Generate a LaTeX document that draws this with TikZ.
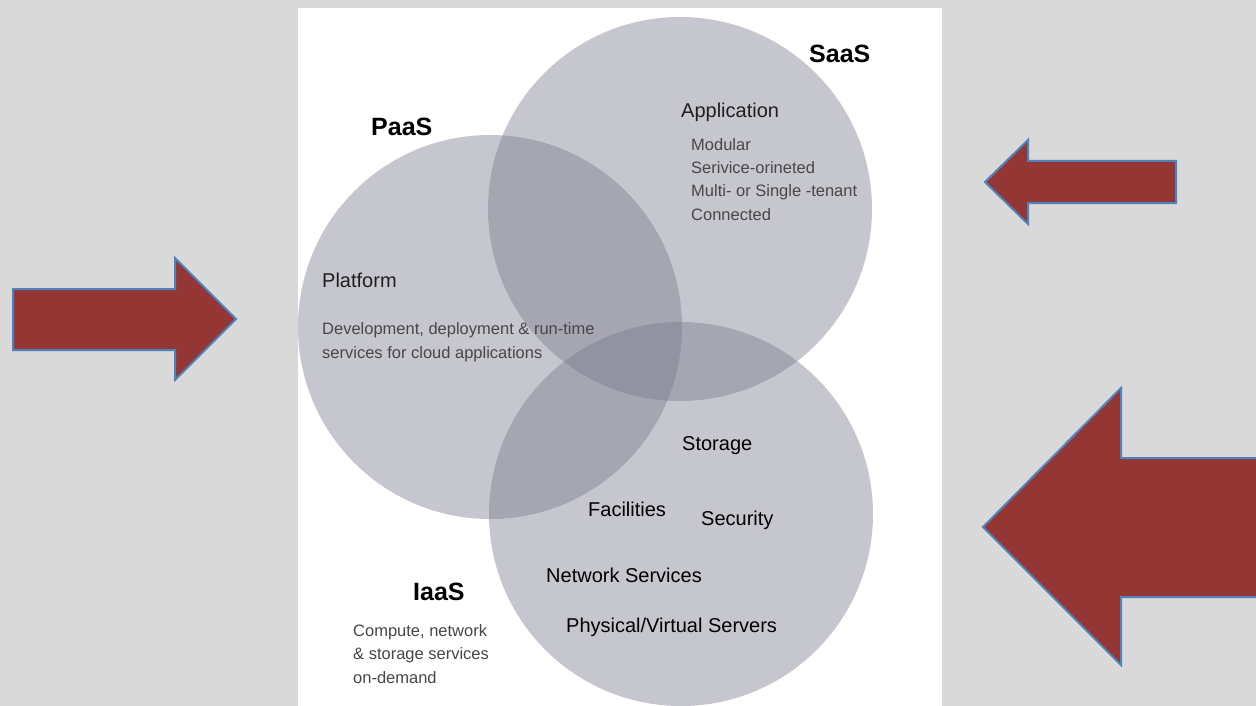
\documentclass[tikz,border=0pt]{standalone}
\usepackage{fontspec}
\setmainfont{Liberation Sans}
\definecolor{slidebg}{HTML}{D9D9D9}
\definecolor{vennfill}{RGB}{120,122,140}
\definecolor{arrowred}{HTML}{943634}
\definecolor{arrowedge}{HTML}{4F81BD}
\begin{document}
\begin{tikzpicture}[x=1pt,y=-1pt,
  venn/.style={circle, minimum size=384pt, inner sep=0pt, draw=none,
               fill=vennfill, fill opacity=0.42},
  tag/.style={anchor=base west, inner sep=0pt, text=black,
              font=\fontsize{25}{30}\selectfont\bfseries},
  head/.style={anchor=base west, inner sep=0pt, text=black!88,
               font=\fontsize{20}{24}\selectfont},
  % multi-line notes are placed by the baseline of their last line
  note/.style={anchor=base west, inner sep=0pt, text=black!72, align=left,
               font=\fontsize{16.5}{23.3}\selectfont},
  blockarrow/.style={fill=arrowred, draw=arrowedge, line width=2pt, line join=miter}]

% slide background and white panel
\useasboundingbox[fill=slidebg] (0,0) rectangle (1256,706);
\fill[white] (298,8) rectangle (942,706);

% the three overlapping service layers
\node[venn] (saas) at (680,209) {};
\node[venn] (paas) at (490,327) {};
\node[venn] (iaas) at (681,514) {};

% SaaS
\node[tag] (saaslbl) at (809,63) {SaaS};
\node[head] (app) at (681,118) {Application};
\node[note] (applist) at (691,220) {Modular\\Serivice-orineted\\Multi- or Single -tenant\\Connected};

% PaaS
\node[tag] (paaslbl) at (371,136) {PaaS};
\node[head] (platform) at (322,287) {Platform};
\node[note] (platdesc) at (322,358) {Development, deployment \& run-time\\services for cloud applications};

% IaaS
\node[tag] (iaaslbl) at (413,600) {IaaS};
\node[note] (iaasdesc) at (353,683) {Compute, network\\\& storage services\\on-demand};
\node[head, text=black] (storage) at (682,450) {Storage};
\node[head, text=black] (facilities) at (588,516) {Facilities};
\node[head, text=black] (security) at (701,525) {Security};
\node[head, text=black] (network) at (546,582) {Network Services};
\node[head, text=black] (servers) at (566,632) {Physical/Virtual Servers};

% block arrows pointing at the panel
\draw[blockarrow] (13,289) -- (175,289) -- (175,258) -- (236,319) -- (175,380)
  -- (175,350) -- (13,350) -- cycle;
\draw[blockarrow] (1176,161) -- (1028,161) -- (1028,140) -- (985,182) -- (1028,224)
  -- (1028,203) -- (1176,203) -- cycle;
\draw[blockarrow] (1262,458) -- (1121,458) -- (1121,388) -- (983,527) -- (1121,665)
  -- (1121,597) -- (1262,597);
\end{tikzpicture}
\end{document}
